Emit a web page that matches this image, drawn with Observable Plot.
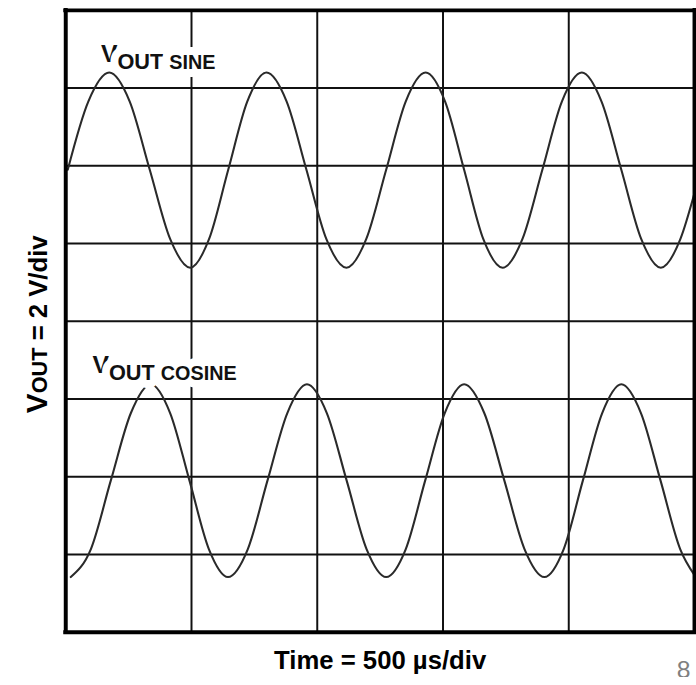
<!DOCTYPE html>
<html>
<head>
<meta charset="utf-8">
<script src="https://cdn.jsdelivr.net/npm/d3@7"></script>
<script src="https://cdn.jsdelivr.net/npm/@observablehq/plot@0.6"></script>
<style>
  html, body { margin: 0; padding: 0; overflow: hidden; background: #fff; }
</style>
</head>
<body>
<div id="chart"></div>
<script>
// ---- Data (time in µs, displayed volts) ----
const sineTime  = [8, 90, 173, 254, 334, 415, 495, 570, 646, 722, 798, 878, 957, 1036, 1116, 1195, 1274, 1352, 1431, 1508, 1584, 1660, 1737, 1816, 1895, 1973, 2052, 2130, 2209, 2288, 2366, 2444, 2500];
const sineVolts = [3.9, 5.66, 6.4, 5.66, 3.9, 2.12, 1.38, 2.12, 3.9, 5.66, 6.4, 5.66, 3.9, 2.12, 1.38, 2.12, 3.9, 5.66, 6.4, 5.66, 3.9, 2.12, 1.38, 2.12, 3.9, 5.66, 6.4, 5.66, 3.9, 2.12, 1.38, 2.12, 3.3];

const cosineTime  = [20, 100, 179, 259, 338, 415, 492, 569, 645, 724, 802, 881, 959, 1038, 1117, 1196, 1274, 1352, 1429, 1507, 1584, 1664, 1744, 1824, 1903, 1980, 2056, 2133, 2209, 2287, 2365, 2443, 2500];
const cosineVolts = [-6.58, -5.86, -4.1, -2.36, -1.62, -2.36, -4.1, -5.86, -6.58, -5.86, -4.1, -2.36, -1.62, -2.36, -4.1, -5.86, -6.58, -5.86, -4.1, -2.36, -1.62, -2.36, -4.1, -5.86, -6.58, -5.86, -4.1, -2.36, -1.62, -2.36, -4.1, -5.86, -6.53];

const timeGrid  = [500, 1000, 1500, 2000];      // 500 µs/div
const voltGrid  = [-6, -4, -2, 0, 2, 4, 6];     // 2 V/div
const timeFrame = [0, 2500];
const voltFrame = [-8, 8];

const labelNames = ["SINE", "COSINE"];
const labelTime  = [140, 106];
const labelVolts = [6.68, -1.34];

const yTitle = "VOUT = 2 V/div";
const xTitle = "Time = 500 µs/div";
const pageNumber = "8";

// ---- tables built from the arrays ----
const sine   = sineTime.map((t, i) => ({t, v: sineVolts[i]}));
const cosine = cosineTime.map((t, i) => ({t, v: cosineVolts[i]}));
const labels = labelNames.map((name, i) => ({name, t: labelTime[i], v: labelVolts[i]}));

const font = "'Liberation Sans', Arial, Helvetica, sans-serif";

const chart = Plot.plot({
  width: 704,
  height: 685,
  marginLeft: 66,
  marginRight: 2,
  marginTop: 10,
  marginBottom: 46,
  x: {domain: [0, 2500], axis: null},
  y: {domain: [-8, 8], axis: null},
  style: {fontFamily: font, background: "#fff", overflow: "visible"},
  marks: [
    Plot.ruleX(timeGrid, {stroke: "#111", strokeWidth: 2}),
    Plot.ruleY(voltGrid, {stroke: "#111", strokeWidth: 2}),
    Plot.line(sine,   {x: "t", y: "v", curve: "monotone-x", stroke: "#2a2a2a", strokeWidth: 2.1}),
    Plot.line(cosine, {x: "t", y: "v", curve: "monotone-x", stroke: "#2a2a2a", strokeWidth: 2.1}),
    Plot.ruleX(timeFrame, {stroke: "#000", strokeWidth: 4, strokeLinecap: "square"}),
    Plot.ruleY(voltFrame, {stroke: "#000", strokeWidth: 4, strokeLinecap: "square"}),
    Plot.text(labels, {
      x: "t", y: "v", text: d => "VOUT " + d.name,
      textAnchor: "start", lineAnchor: "bottom",
      fontSize: 25, fontWeight: "bold", fill: "#111", stroke: "#fff", strokeWidth: 16
    }),
    Plot.text([yTitle], {
      text: d => d, frameAnchor: "left", rotate: -90,
      textAnchor: "middle", lineAnchor: "bottom", dx: -19, dy: 3,
      fontSize: 26, fontWeight: "bold", fill: "#000"
    }),
    Plot.text([xTitle], {
      text: d => d, frameAnchor: "bottom",
      textAnchor: "middle", lineAnchor: "bottom", dy: 37,
      fontSize: 26, fontWeight: "bold", fill: "#000"
    }),
    Plot.text([pageNumber], {
      text: d => d, frameAnchor: "bottom-right",
      textAnchor: "start", lineAnchor: "bottom", dx: -18, dy: 46,
      fontSize: 25, fill: "#808080"
    })
  ]
});

document.getElementById("chart").appendChild(chart);

// ---- rich text: subscripts / small caps; baseline exactly at the anchor ----
const NS = "http://www.w3.org/2000/svg";
function rich(el, parts) {
  el.textContent = "";
  for (const p of parts) {
    const ts = document.createElementNS(NS, "tspan");
    ts.textContent = p.s;
    ts.setAttribute("font-size", p.size);
    if (p.dy) ts.setAttribute("dy", p.dy);
    el.appendChild(ts);
  }
}
d3.select(chart).selectAll("text").each(function () {
  const s = this.textContent;
  this.removeAttribute("y");
  this.removeAttribute("dy");
  if (s.startsWith("VOUT ") && labelNames.includes(s.slice(5))) {
    this.setAttribute("stroke-linejoin", "round");
    rich(this, [{s: "V", size: 25}, {s: "OUT ", size: 22, dy: 7}, {s: s.slice(5), size: 20}]);
  } else if (s === yTitle) {
    rich(this, [{s: "V", size: 30}, {s: "OUT", size: 22}, {s: " = 2 V/div", size: 26}]);
  }
});
</script>
</body>
</html>
